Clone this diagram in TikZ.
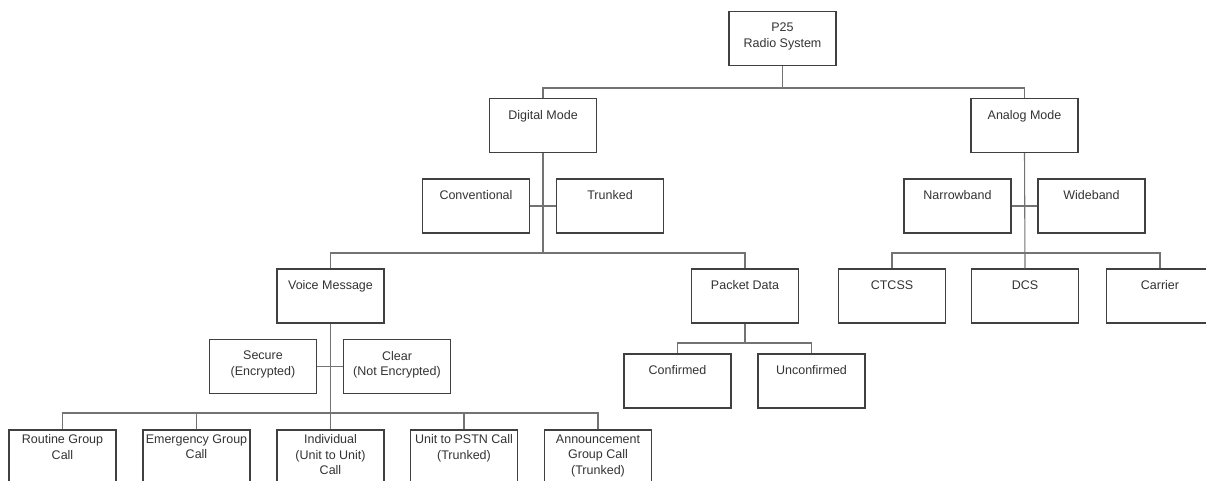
\documentclass[tikz,border=0pt]{standalone}
\usepackage{fontspec}
\setmainfont{Liberation Sans}
\begin{document}
\begin{tikzpicture}[x=1pt,y=-1pt,
  box/.style={draw=black!75,line width=1.1pt,minimum width=107pt,minimum height=54pt,inner sep=0pt},
  txt/.style={anchor=north,inner sep=0pt,align=center,text=black!80,font=\fontsize{12.5}{15.6}\selectfont},
  conn/.style={draw=black!55,line width=1.1pt}]
\useasboundingbox (0,0) rectangle (1206,481);
\clip (0,0) rectangle (1206,481);
% boxes
\node[box] (p25) at (782.5,38.5) {};
\node[box] (dm) at (543,125.5) {};
\node[box] (am) at (1024.5,125.5) {};
\node[box] (conv) at (476,206) {};
\node[box] (trunk) at (610,206) {};
\node[box] (narrow) at (957.5,206) {};
\node[box] (wide) at (1091.5,206) {};
\node[box] (ctcss) at (892,296) {};
\node[box] (dcs) at (1025,296) {};
\node[box] (carrier) at (1160,296) {};
\node[box] (voice) at (330.5,296) {};
\node[box] (packet) at (745,296) {};
\node[box] (secure) at (263,366.5) {};
\node[box] (clear) at (397,366.5) {};
\node[box] (conf) at (677.5,381) {};
\node[box] (unconf) at (811.5,381) {};
\node[box] (routine) at (62.5,457) {};
\node[box] (emerg) at (196.5,457) {};
\node[box] (indiv) at (330.5,457) {};
\node[box] (pstn) at (464,457) {};
\node[box] (annc) at (598,457) {};
% texts
\node[txt] (p25t) at ([yshift=-12pt]p25.north) {P25\\Radio System};
\node[txt] (dmt) at ([yshift=-12pt]dm.north) {Digital Mode};
\node[txt] (amt) at ([yshift=-12pt]am.north) {Analog Mode};
\node[txt] (convt) at ([yshift=-12pt]conv.north) {Conventional};
\node[txt] (trunkt) at ([yshift=-12pt]trunk.north) {Trunked};
\node[txt] (narrowt) at ([yshift=-12pt]narrow.north) {Narrowband};
\node[txt] (widet) at ([yshift=-12pt]wide.north) {Wideband};
\node[txt] (ctcsst) at ([yshift=-12pt]ctcss.north) {CTCSS};
\node[txt] (dcst) at ([yshift=-12pt]dcs.north) {DCS};
\node[txt] (carriert) at ([yshift=-12pt]carrier.north) {Carrier};
\node[txt] (voicet) at ([yshift=-12pt]voice.north) {Voice Message};
\node[txt] (packett) at ([yshift=-12pt]packet.north) {Packet Data};
\node[txt] (securet) at ([yshift=-12pt]secure.north) {Secure\\(Encrypted)};
\node[txt] (cleart) at ([yshift=-12pt]clear.north) {Clear\\(Not Encrypted)};
\node[txt] (conft) at ([yshift=-12pt]conf.north) {Confirmed};
\node[txt] (unconft) at ([yshift=-12pt]unconf.north) {Unconfirmed};
\node[txt] (routinet) at ([yshift=-5pt]routine.north) {Routine Group\\Call};
\node[txt] (emergt) at ([yshift=-5pt]emerg.north) {Emergency Group\\Call};
\node[txt] (indivt) at ([yshift=-5pt]indiv.north) {Individual\\(Unit to Unit)\\Call};
\node[txt] (pstnt) at ([yshift=-5pt]pstn.north) {Unit to PSTN Call\\(Trunked)};
\node[txt] (annct) at ([yshift=-5pt]annc.north) {Announcement\\Group Call\\(Trunked)};
% junctions
\coordinate (j1) at (782.5,88);
\coordinate (j2) at (543,253);
\coordinate (j3) at (1025,253);
\coordinate (j4) at (745,343);
\coordinate (j5) at (330.5,413);
% connectors
\draw[conn] (p25.south) -- (j1);
\draw[conn] (dm.north) -- (dm.north |- j1) -- (am.north |- j1) -- (am.north);
\draw[conn] (dm.south) -- (j2);
\draw[conn] (conv.east) -- (trunk.west);
\draw[conn] (voice.north) -- (voice.north |- j2) -- (packet.north |- j2) -- (packet.north);
\draw[conn] (am.south) -- (dcs.north);
\draw[conn] (narrow.east) -- (wide.west);
\draw[conn] (ctcss.north) -- (ctcss.north |- j3) -- (carrier.north |- j3) -- (carrier.north);
\draw[conn] (packet.south) -- (j4);
\draw[conn] (conf.north) -- (conf.north |- j4) -- (unconf.north |- j4) -- (unconf.north);
\draw[conn] (voice.south) -- (indiv.north);
\draw[conn] (secure.east) -- (clear.west);
\draw[conn] (routine.north) -- (routine.north |- j5) -- (annc.north |- j5) -- (annc.north);
\draw[conn] (emerg.north) -- (emerg.north |- j5);
\draw[conn] (pstn.north) -- (pstn.north |- j5);
\end{tikzpicture}
\end{document}
